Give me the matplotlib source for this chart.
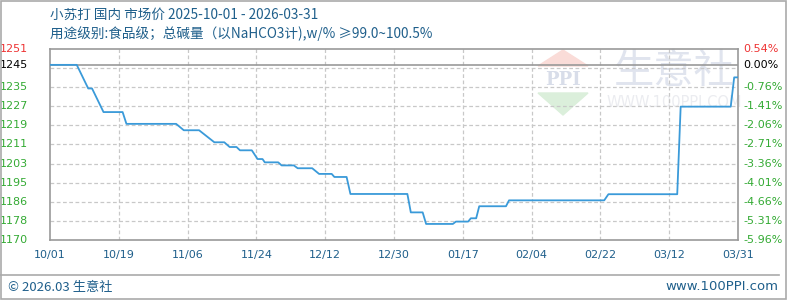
import numpy as np
import matplotlib
matplotlib.use('Agg')
import matplotlib.pyplot as plt
from matplotlib.patches import Polygon, Rectangle
from matplotlib.lines import Line2D

plt.rcParams['font.family'] = ['Noto Sans CJK SC', 'DejaVu Sans']

# price series, day offset from 2025-10-01 and price (yuan/t)
days = [0, 7, 10, 11, 14, 19, 20, 33, 35, 39, 43, 45.6, 47, 48.8, 49.7, 52.8, 54.3, 55.6, 56.2,
        59.7, 60.6, 63.8, 64.8, 68.6, 70.4, 73.7, 74.4, 77.6, 78.6, 93.5, 94.4, 97.5, 98.4,
        105.4, 106.2, 109.4, 110.1, 111.5, 112.3, 119.3, 120.1, 145, 146.1, 164.1, 165,
        178.1, 179, 180]
prices = [1245, 1245, 1235, 1235, 1225, 1225, 1220, 1220, 1217.3, 1217.3, 1212.2, 1212.2,
          1210.2, 1210.2, 1208.8, 1208.8, 1205.1, 1205.1, 1203.7, 1203.7, 1202.4, 1202.4,
          1201.2, 1201.2, 1198.8, 1198.8, 1197.5, 1197.5, 1190.3, 1190.3, 1182.5, 1182.5,
          1177.6, 1177.6, 1178.6, 1178.6, 1180.0, 1180.0, 1185.1, 1185.1, 1187.6, 1187.6,
          1190.2, 1190.2, 1227.3, 1227.3, 1239.7, 1239.7]

base_price = 1245
pct_min, pct_max = -5.96, 0.54
x_labels = ['10/01', '10/19', '11/06', '11/24', '12/12', '12/30',
            '01/17', '02/04', '02/22', '03/12', '03/31']
title1 = '小苏打 国内 市场价 2025-10-01 - 2026-03-31'
title2 = '用途级别:食品级；总碱量（以NaHCO3计),w/% ≥99.0~100.5%'

W, H = 788, 300
fig = plt.figure(figsize=(W / 100, H / 100), dpi=100)
fig.patch.set_facecolor('white')

def fx(x):
    return x / W

def fy(y):
    return 1 - y / H

L, R, T, B = 50, 738, 49, 240
ax = fig.add_axes([fx(L), fy(B), fx(R) - fx(L), fy(T) - fy(B)])

ymin = base_price * (1 + pct_min / 100)
ymax = base_price * (1 + pct_max / 100)
ax.set_xlim(0, 180)
ax.set_ylim(ymin, ymax)

# grid
step = (ymax - ymin) / 10
grid_vals = [ymin + step * k for k in range(1, 10)]
for g in grid_vals:
    ax.axhline(g, color='#c8c8c8', lw=0.9, ls=(0, (3, 2)), zorder=1)
xticks = np.linspace(0, 180, len(x_labels))
for xt in xticks[1:-1]:
    ax.axvline(xt, color='#c8c8c8', lw=0.9, ls=(0, (3, 2)), zorder=1)
ax.axhline(base_price, color='#999999', lw=1.2, zorder=2)

for s in ax.spines.values():
    s.set_color('#999999')
    s.set_linewidth(1.2)

ax.set_xticks(xticks)
ax.set_xticklabels(x_labels, color='#1f5f8b', fontsize=8, family='DejaVu Sans')
ax.tick_params(axis='x', length=0, pad=7)
ax.set_yticks([])

# left / right labels
lx = -22 / (R - L) * 180
rx = 180 + 5 / (R - L) * 180
left_vals = [ymin + step * k for k in range(0, 9)]
for v in left_vals:
    ax.text(lx, v, str(int(v)), color='#33aa33', fontsize=8,
            family='DejaVu Sans', ha='right', va='center', clip_on=False)
    pct = (v / base_price - 1) * 100
    ax.text(rx, v, '%.2f%%' % pct, color='#33aa33', fontsize=8,
            family='DejaVu Sans', ha='left', va='center', clip_on=False)
ax.text(lx, base_price, str(base_price), color='black', fontsize=8,
        family='DejaVu Sans', ha='right', va='center', clip_on=False)
ax.text(rx, base_price, '0.00%', color='black', fontsize=8,
        family='DejaVu Sans', ha='left', va='center', clip_on=False)
ax.text(lx, ymax, str(int(ymax)), color='#ee3333', fontsize=8,
        family='DejaVu Sans', ha='right', va='center', clip_on=False)
ax.text(rx, ymax, '%.2f%%' % pct_max, color='#ee3333', fontsize=8,
        family='DejaVu Sans', ha='left', va='center', clip_on=False)

# watermark
tf = fig.transFigure
ax.add_patch(Polygon([(fx(538), fy(66)), (fx(563), fy(50)), (fx(588), fy(66))],
                     closed=True, transform=tf, color='#fadcd8', zorder=0))
ax.add_patch(Polygon([(fx(538), fy(93)), (fx(588), fy(93)), (fx(563), fy(115))],
                     closed=True, transform=tf, color='#dbefdb', zorder=0))
ax.text(fx(563), fy(80), 'PPI', transform=tf, color='#d8dde9', fontsize=13,
        family='DejaVu Serif', fontweight='bold', ha='center', va='center', zorder=0)
ax.text(fx(674), fy(71), '生意社', transform=tf, color='#e0e4ee', fontsize=29,
        ha='center', va='center', zorder=0)
ax.text(fx(674), fy(103), 'WWW.100PPI.COM', transform=tf, color='#ebecf0', fontsize=10.5,
        family='DejaVu Sans', ha='center', va='center', zorder=0)

ax.plot(days, prices, color='#3a9ad9', lw=1.3, zorder=3)

# titles
fig.text(fx(50), fy(15), title1, color='#1f5f8b', fontsize=9.8, va='center', ha='left')
fig.text(fx(50), fy(34), title2, color='#1f5f8b', fontsize=9.8, va='center', ha='left')

# footer
fig.add_artist(Line2D([fx(0), fx(779)], [fy(275), fy(275)], color='#aaaaaa', lw=1.2))
fig.text(fx(8), fy(287), '© 2026.03 生意社', color='#1f5f8b', fontsize=9.5, va='center', ha='left')
fig.text(fx(778), fy(287), 'www.100PPI.com', color='#1f5f8b', fontsize=9.5,
         family='DejaVu Sans', va='center', ha='right')
fig.add_artist(Rectangle((0.0008, 0.002), 0.997, 0.996, transform=tf, fill=False,
                         ec='#aaaaaa', lw=1.2))

fig.savefig('out.png', dpi=100)
